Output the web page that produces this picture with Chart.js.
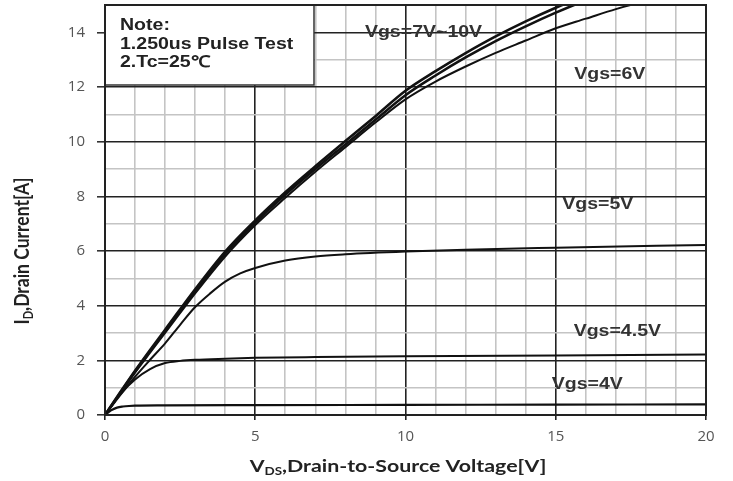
<!DOCTYPE html>
<html>
<head>
<meta charset="utf-8">
<script src="https://cdn.jsdelivr.net/npm/chart.js@4.4.1/dist/chart.umd.min.js"></script>
<style>
  body { margin: 0; background: #fff; }
</style>
</head>
<body>
<canvas id="myChart" width="733" height="481"></canvas>
<script>
// curve data (Vds in V, Id in A)
const vdsHigh = [0, 0.5, 1, 1.5, 2, 3, 4, 5, 6, 7, 8, 9, 10, 11, 12, 13, 14, 15, 16];
const id10V = [0, 0.82, 1.62, 2.38, 3.12, 4.6, 5.98, 7.12, 8.15, 9.1, 10.02, 10.93, 11.86, 12.58, 13.24, 13.85, 14.4, 14.9, 15.35];
const id7V = [0, 0.8, 1.59, 2.34, 3.07, 4.53, 5.9, 7.04, 8.06, 9.0, 9.9, 10.8, 11.7, 12.42, 13.08, 13.68, 14.22, 14.72, 15.18];

const vds6 = [0, 0.5, 1, 1.5, 2, 3, 4, 5, 6, 7, 8, 9, 10, 11, 12, 13, 14, 15, 16, 17, 18];
const id6V = [0, 0.78, 1.55, 2.28, 3.0, 4.45, 5.8, 6.95, 7.95, 8.9, 9.8, 10.7, 11.55, 12.2, 12.75, 13.25, 13.7, 14.15, 14.5, 14.85, 15.15];

const vds5 = [0, 0.5, 1, 1.5, 2, 2.5, 3, 3.5, 4, 4.5, 5, 6, 7, 8, 10, 12, 15, 20];
const id5V = [0, 0.72, 1.4, 2.02, 2.62, 3.3, 3.95, 4.45, 4.88, 5.18, 5.38, 5.65, 5.8, 5.88, 5.98, 6.05, 6.12, 6.22];

const vds45 = [0, 0.5, 1, 1.5, 2, 2.5, 3, 4, 5, 7, 10, 15, 20];
const id45V = [0, 0.75, 1.3, 1.68, 1.9, 1.98, 2.02, 2.06, 2.09, 2.12, 2.15, 2.18, 2.21];

const vds4 = [0, 0.2, 0.4, 0.6, 0.8, 1, 2, 5, 10, 15, 20];
const id4V = [0, 0.17, 0.27, 0.31, 0.33, 0.34, 0.35, 0.36, 0.37, 0.38, 0.39];

// curve labels
const labelTexts = ["Vgs=7V~10V", "Vgs=6V", "Vgs=5V", "Vgs=4.5V", "Vgs=4V"];
const labelVds = [10.6, 16.8, 16.4, 17.05, 16.05];
const labelId = [14.0, 12.45, 7.7, 3.05, 1.1];

const noteLines = ["Note:", "1.250us Pulse Test", "2.Tc=25℃"];

const xTicks = [0, 5, 10, 15, 20];
const yTicks = [0, 2, 4, 6, 8, 10, 12, 14];

// the scanned sheet is a bit wider than tall, text looks stretched sideways
const stretch = 1.22;

function toPoints(xs, ys) {
    return xs.map((x, i) => ({ x: x, y: ys[i] }))
}

function curve(label, xs, ys, width) {
    return {
        label: label,
        data: toPoints(xs, ys),
        borderColor: "#111",
        borderWidth: width,
        pointRadius: 0,
        cubicInterpolationMode: "monotone",
        fill: false
    }
}

function wideText(ctx, text, x, y, align) {
    ctx.save()
    ctx.translate(x, y)
    ctx.scale(stretch, 1)
    ctx.textAlign = align
    ctx.fillText(text, 0, 0)
    ctx.restore()
}

// draws text made of normal and subscript parts, centered on 0,0 of current transform
function drawParts(ctx, parts, size) {
    const big = `bold ${size}px Lato, "Liberation Sans", sans-serif`
    const small = `bold ${Math.round(size * 0.6)}px Lato, "Liberation Sans", sans-serif`
    let total = 0
    parts.forEach(p => {
        ctx.font = p.sub ? small : big
        total += ctx.measureText(p.t).width
    })
    let cx = -total / 2
    ctx.textAlign = "left"
    ctx.textBaseline = "middle"
    parts.forEach(p => {
        ctx.font = p.sub ? small : big
        ctx.fillText(p.t, cx, p.sub ? size * 0.3 : 0)
        cx += ctx.measureText(p.t).width
    })
}

const extras = {
    id: "extras",
    beforeDatasetsDraw(chart) {
        const ctx = chart.ctx
        const area = chart.chartArea
        // note box
        ctx.save()
        ctx.fillStyle = "#fff"
        ctx.fillRect(area.left, area.top, 209, 80)
        ctx.strokeStyle = "#333"
        ctx.lineWidth = 1.5
        ctx.strokeRect(area.left, area.top, 209, 80)
        ctx.fillStyle = "#222"
        ctx.font = 'bold 16px "Liberation Sans", Arial, sans-serif'
        ctx.textBaseline = "middle"
        noteLines.forEach((t, i) => {
            wideText(ctx, t, area.left + 15, area.top + 21 + i * 18.5, "left")
        })
        ctx.restore()
    },
    afterDatasetsDraw(chart) {
        const ctx = chart.ctx
        const area = chart.chartArea
        const xs = chart.scales.x
        const ys = chart.scales.y
        ctx.save()
        // frame
        ctx.strokeStyle = "#222"
        ctx.lineWidth = 2
        ctx.strokeRect(area.left, area.top, area.right - area.left, area.bottom - area.top)
        // curve labels
        ctx.fillStyle = "#333"
        ctx.font = 'bold 16px "Liberation Sans", Arial, sans-serif'
        ctx.textBaseline = "middle"
        labelTexts.forEach((t, i) => {
            wideText(ctx, t, xs.getPixelForValue(labelVds[i]), ys.getPixelForValue(labelId[i]), "center")
        })
        // axis titles with subscripts
        ctx.fillStyle = "#222"
        ctx.save()
        ctx.translate(398, 466)
        ctx.scale(stretch, 1)
        drawParts(ctx, [{ t: "V" }, { t: "DS", sub: true }, { t: ",Drain-to-Source Voltage[V]" }], 17.5)
        ctx.restore()
        ctx.translate(22, 251)
        ctx.rotate(-Math.PI / 2)
        ctx.scale(1, stretch)
        drawParts(ctx, [{ t: "I" }, { t: "D", sub: true }, { t: ",Drain Current[A]" }], 17.5)
        ctx.restore()
    }
}

new Chart(document.getElementById("myChart"), {
    type: "line",
    data: {
        datasets: [
            curve("Vgs=10V", vdsHigh, id10V, 2.6),
            curve("Vgs=7V", vdsHigh, id7V, 2.6),
            curve("Vgs=6V", vds6, id6V, 2),
            curve("Vgs=5V", vds5, id5V, 2),
            curve("Vgs=4.5V", vds45, id45V, 2),
            curve("Vgs=4V", vds4, id4V, 2.2)
        ]
    },
    options: {
        responsive: false,
        animation: false,
        layout: { padding: { left: 0, right: 27, top: 5, bottom: 0 } },
        plugins: { legend: { display: false }, tooltip: { enabled: false } },
        scales: {
            x: {
                type: "linear",
                min: 0,
                max: 20,
                afterFit: scale => { scale.height = 66 },
                ticks: {
                    stepSize: 1,
                    autoSkip: false,
                    maxRotation: 0,
                    padding: 8,
                    color: "#555",
                    font: { family: "Open Sans", size: 15 },
                    callback: v => xTicks.includes(v) ? v : ""
                },
                grid: {
                    color: c => xTicks.includes(c.tick.value) ? "#222" : "#c4c4c4",
                    lineWidth: 1.6,
                    tickColor: c => xTicks.includes(c.tick.value) ? "#222" : "rgba(0,0,0,0)",
                    tickLength: 5
                },
                border: { color: "#222", width: 2 }
            },
            y: {
                min: 0,
                max: 15,
                afterFit: scale => {
                    scale.width = 105
                    scale.paddingTop = 0
                    scale.paddingBottom = 0
                },
                ticks: {
                    stepSize: 1,
                    autoSkip: false,
                    padding: 12,
                    color: "#555",
                    font: { family: "Open Sans", size: 15 },
                    callback: v => yTicks.includes(v) ? v : ""
                },
                grid: {
                    color: c => yTicks.includes(c.tick.value) ? "#222" : "#c4c4c4",
                    lineWidth: 1.6,
                    tickColor: c => yTicks.includes(c.tick.value) ? "#333" : "rgba(0,0,0,0)",
                    tickLength: 8
                },
                border: { color: "#222", width: 2 }
            }
        }
    },
    plugins: [extras]
});
</script>
</body>
</html>
